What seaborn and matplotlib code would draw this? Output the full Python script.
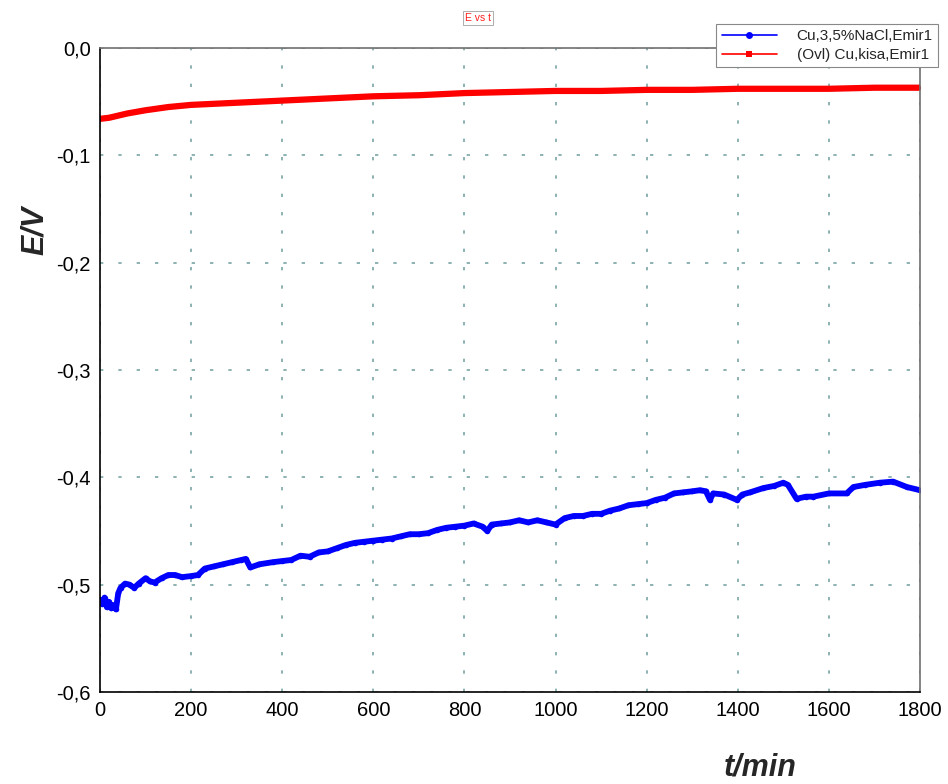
import matplotlib
matplotlib.use("Agg")
import matplotlib.pyplot as plt
import seaborn as sns
from matplotlib.ticker import MultipleLocator, FuncFormatter

# Blue series: Cu, 3.5% NaCl
t_blue = [0, 5, 10, 15, 20, 25, 30, 35, 40, 45, 55, 65, 75, 85, 100, 110, 120, 135,
          150, 165, 180, 200, 215, 230, 250, 270, 290, 310, 320, 330, 350, 380, 400,
          420, 440, 460, 480, 500, 520, 540, 560, 580, 600, 620, 640, 660, 680, 700,
          720, 740, 760, 780, 800, 820, 840, 850, 860, 880, 900, 920, 940, 960, 980,
          1000, 1020, 1040, 1060, 1080, 1100, 1120, 1140, 1160, 1180, 1200, 1220, 1240,
          1260, 1280, 1300, 1317, 1330, 1339, 1346, 1370, 1398, 1410, 1427, 1456, 1480,
          1500, 1510, 1529, 1550, 1566, 1600, 1639, 1654, 1680, 1712, 1741, 1771, 1800]
e_blue = [-0.514, -0.518, -0.512, -0.521, -0.516, -0.522, -0.519, -0.523, -0.508, -0.503,
          -0.499, -0.500, -0.503, -0.499, -0.494, -0.497, -0.498, -0.494, -0.491, -0.491,
          -0.493, -0.492, -0.491, -0.485, -0.483, -0.481, -0.479, -0.477, -0.476, -0.484,
          -0.481, -0.479, -0.478, -0.477, -0.473, -0.474, -0.470, -0.469, -0.466, -0.463,
          -0.461, -0.460, -0.459, -0.458, -0.457, -0.455, -0.453, -0.453, -0.452, -0.449,
          -0.447, -0.446, -0.445, -0.443, -0.446, -0.450, -0.444, -0.443, -0.442, -0.440,
          -0.442, -0.440, -0.442, -0.444, -0.438, -0.436, -0.436, -0.434, -0.434, -0.431,
          -0.429, -0.426, -0.425, -0.424, -0.421, -0.419, -0.415, -0.414, -0.413, -0.412,
          -0.413, -0.421, -0.415, -0.416, -0.421, -0.416, -0.414, -0.410, -0.408, -0.405,
          -0.407, -0.420, -0.418, -0.418, -0.415, -0.415, -0.409, -0.407, -0.405, -0.404,
          -0.409, -0.412]

# Red series: (Ovl) Cu, kisa
t_red = [0, 20, 40, 60, 100, 150, 200, 300, 400, 500, 600, 700, 800, 900, 1000,
         1100, 1200, 1300, 1400, 1500, 1600, 1700, 1800]
e_red = [-0.066, -0.065, -0.063, -0.061, -0.058, -0.055, -0.053, -0.051, -0.049, -0.047,
         -0.045, -0.044, -0.042, -0.041, -0.040, -0.040, -0.039, -0.039, -0.038, -0.038,
         -0.038, -0.037, -0.037]

labels = ["Cu,3,5%NaCl,Emir1", "(Ovl) Cu,kisa,Emir1"]

sns.set_style("white")
plt.rcParams['font.family'] = ['Liberation Sans', 'DejaVu Sans']

fig = plt.figure(figsize=(9.48, 7.84), dpi=100)
ax = fig.add_axes([100 / 948, 1 - 692 / 784, 820 / 948, 644 / 784])

sns.lineplot(x=t_blue, y=e_blue, ax=ax, color="#0000ff", lw=4.2, marker="o",
             markersize=4, markeredgewidth=0, label=labels[0], sort=False)
sns.lineplot(x=t_red, y=e_red, ax=ax, color="#ff0000", lw=4.5, marker="s",
             markersize=3, markeredgewidth=0, label=labels[1], sort=False)

ax.set_xlim(0, 1800)
ax.set_ylim(-0.6, 0.0)
ax.minorticks_on()
ax.xaxis.set_major_locator(MultipleLocator(200))
ax.xaxis.set_minor_locator(MultipleLocator(100))
ax.yaxis.set_major_locator(MultipleLocator(0.1))
ax.yaxis.set_minor_locator(MultipleLocator(0.05))
ax.yaxis.set_major_formatter(FuncFormatter(lambda v, p: f"{v:.1f}".replace(".", ",").replace("-0,0", "0,0")))
ax.tick_params(axis="both", which="major", direction="inout", length=7, width=1,
               labelsize=14.5, colors="black", pad=3)
ax.tick_params(axis="both", which="minor", direction="in", length=4, width=1,
               colors="black")
ax.grid(True, which="major", linestyle=(0, (2, 9)), color="#7aa5a5", lw=1.2)

for side in ["left", "bottom"]:
    ax.spines[side].set_color("black")
    ax.spines[side].set_linewidth(1.2)
for side in ["top", "right"]:
    ax.spines[side].set_color("#707070")
    ax.spines[side].set_linewidth(1.2)

ax.set_xlabel("")
ax.set_ylabel("")
fig.text(35 / 948, 1 - 230 / 784, "E/V", rotation=90, ha="center", va="center",
         fontsize=22, fontweight="bold", fontstyle="italic")
fig.text(760 / 948, 1 - 768 / 784, "t/min", ha="center", va="center",
         fontsize=22, fontweight="bold", fontstyle="italic")

fig.text(478 / 948, 1 - 18 / 784, "E vs t", ha="center", va="center", color="#ff2020",
         fontsize=7.5, bbox=dict(facecolor="white", edgecolor="#a0a0a0", lw=0.6, pad=1.5))

leg = ax.legend(loc="upper right", bbox_to_anchor=(938 / 948, 1 - 24 / 784),
                bbox_transform=fig.transFigure, fontsize=11, frameon=True,
                fancybox=False, edgecolor="#888888", framealpha=1, shadow=False,
                handlelength=3.6, borderpad=0.35, labelspacing=0.3, handletextpad=1.3,
                borderaxespad=0)
leg.get_frame().set_linewidth(0.8)
for h in leg.get_lines():
    h.set_linewidth(1.2)
    h.set_markersize(5)

fig.savefig("out.png", dpi=100)
plt.close(fig)
